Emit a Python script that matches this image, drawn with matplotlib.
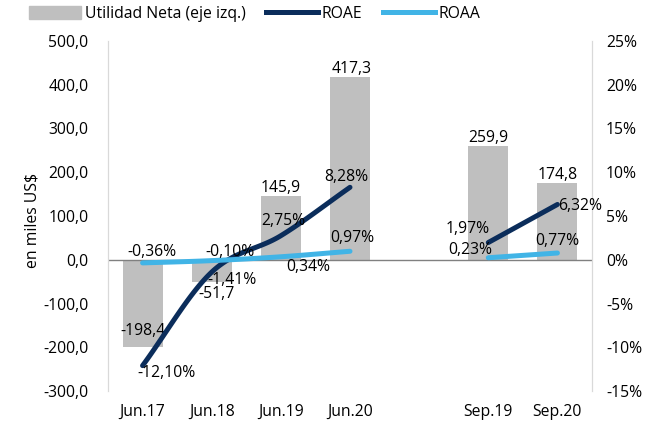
import numpy as np
import matplotlib
matplotlib.use("Agg")
import matplotlib.pyplot as plt
from matplotlib.patches import Patch
from matplotlib.lines import Line2D

plt.rcParams['font.family'] = ['Open Sans', 'DejaVu Sans']

categories = ["Jun.17", "Jun.18", "Jun.19", "Jun.20", "", "Sep.19", "Sep.20"]
utilidad = [-198.4, -51.7, 145.9, 417.3, None, 259.9, 174.8]
roae_anual = [-12.10, -1.41, 2.75, 8.28]
roaa_anual = [-0.36, -0.10, 0.34, 0.97]
roae_sep = [1.97, 6.32]
roaa_sep = [0.23, 0.77]

C_BAR = "#BFBFBF"
C_ROAE = "#0B2D5B"
C_ROAA = "#41B4E6"
FS = 11.3


def fmt(v, d=1):
    return f"{v:.{d}f}".replace(".", ",")


def catmull(xs, ys, n=40):
    xs = np.asarray(xs, float)
    ys = np.asarray(ys, float)
    if len(xs) < 3:
        return xs, ys
    P = np.column_stack([xs, ys])
    P = np.vstack([P[0] - (P[1] - P[0]), P, P[-1] + (P[-1] - P[-2])])
    out = []
    t = np.linspace(0, 1, n)[:, None]
    for i in range(1, len(P) - 2):
        p0, p1, p2, p3 = P[i - 1], P[i], P[i + 1], P[i + 2]
        seg = 0.5 * ((2 * p1) + (-p0 + p2) * t + (2 * p0 - 5 * p1 + 4 * p2 - p3) * t ** 2
                     + (-p0 + 3 * p1 - 3 * p2 + p3) * t ** 3)
        out.append(seg if i == 1 else seg[1:])
    out = np.vstack(out)
    return out[:, 0], out[:, 1]


fig = plt.figure(figsize=(6.6, 4.23), dpi=100)
ax = fig.add_axes([108 / 660, 1 - 391 / 423, 484 / 660, 350 / 423])
ax2 = ax.twinx()

x = np.arange(len(categories))
bar_idx = [i for i, v in enumerate(utilidad) if v is not None]
bar_vals = [utilidad[i] for i in bar_idx]
ax.bar(bar_idx, bar_vals, width=0.58, color=C_BAR, zorder=1)
ax.axhline(0, color="#808080", lw=1.0, zorder=2)

ax.set_xlim(-0.5, 6.5)
ax.set_ylim(-300, 500)
ax.set_yticks(np.arange(-300, 501, 100))
ax.set_yticklabels([fmt(v) for v in np.arange(-300, 501, 100)], fontsize=FS)
ax.set_xticks(x)
ax.set_xticklabels(categories, fontsize=FS)
ax.tick_params(axis='both', length=0)
ax.tick_params(axis='y', pad=14)
ax.tick_params(axis='x', pad=9)
ax.set_ylabel("en miles US$", fontsize=FS)
ax.yaxis.set_label_coords(-(108 - 41) / 484, (391 - 220) / 350)

ax2.set_ylim(-15, 25)
ax2.set_yticks(np.arange(-15, 26, 5))
ax2.set_yticklabels([f"{v}%" for v in np.arange(-15, 26, 5)], fontsize=FS)
ax2.tick_params(axis='y', length=0, pad=10)

for a in (ax, ax2):
    for s in ("top", "bottom"):
        a.spines[s].set_visible(False)
    a.spines["left"].set_color("#D9D9D9")
    a.spines["right"].set_color("#D9D9D9")

# lines
xa = [0, 1, 2, 3]
xs = [5, 6]
for xv, yv, c in [(xa, roae_anual, C_ROAE), (xa, roaa_anual, C_ROAA),
                  (xs, roae_sep, C_ROAE), (xs, roaa_sep, C_ROAA)]:
    sx, sy = catmull(xv, yv)
    ax2.plot(sx, sy, color=c, lw=3.6, solid_capstyle='round', zorder=3)

# bar labels
bar_off = {0: (0, 16), 1: (5, -12), 2: (0, 8), 3: (2, 8), 5: (0, 8), 6: (0, 8)}
for i, v in zip(bar_idx, bar_vals):
    dx, dy = bar_off[i]
    ax.annotate(fmt(v), (i, v), xytext=(dx, dy), textcoords='offset pixels',
                ha='center', va='center', fontsize=FS)


def pct(v):
    return f"{v:.2f}".replace(".", ",") + "%"


roae_off = [(24, -7), (20, -8), (2, 15), (-4, 10)]
roaa_off = [(9, 11), (18, 9), (27, -10), (2, 13)]
roae_sep_off = [(-21, 14), (23, -2)]
roaa_sep_off = [(-18, 8), (0, 12)]
for xv, yv, offs in [(xa, roae_anual, roae_off), (xa, roaa_anual, roaa_off),
                     (xs, roae_sep, roae_sep_off), (xs, roaa_sep, roaa_sep_off)]:
    for xi, yi, (dx, dy) in zip(xv, yv, offs):
        ax2.annotate(pct(yi), (xi, yi), xytext=(dx, dy), textcoords='offset pixels',
                     ha='center', va='center', fontsize=FS, zorder=5)

handles = [Patch(color=C_BAR), Line2D([], [], color=C_ROAE, lw=3.6),
           Line2D([], [], color=C_ROAA, lw=3.6)]
labels = ["Utilidad Neta (eje izq.)", "ROAE", "ROAA"]
fig.legend(handles, labels, loc='center left', bbox_to_anchor=(29 / 660, 1 - 14 / 423),
           ncol=3, frameon=False, fontsize=FS, handlelength=3.3, handleheight=0.85,
           handletextpad=0.25, columnspacing=1.3, borderaxespad=0, borderpad=0)

fig.savefig("out.png", dpi=100)
